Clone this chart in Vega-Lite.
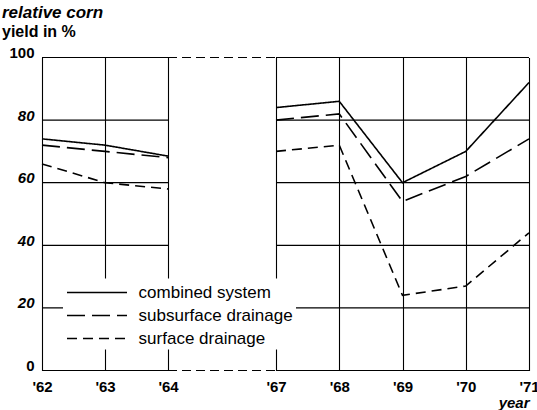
{
  "$schema": "https://vega.github.io/schema/vega-lite/v6.json",
  "width": 487,
  "height": 313,
  "autosize": {"type": "none"},
  "padding": {"left": 42, "top": 57.5, "right": 8, "bottom": 39.5},
  "background": "white",
  "config": {
    "font": "Liberation Sans",
    "view": {"stroke": null}
  },
  "title": {
    "text": "relative corn",
    "subtitle": "yield in %",
    "anchor": "start",
    "frame": "group",
    "dx": -40,
    "fontStyle": "italic",
    "fontWeight": "bold",
    "fontSize": 17,
    "color": "black",
    "subtitleFontSize": 16,
    "subtitleFontWeight": "bold",
    "subtitleColor": "black",
    "subtitlePadding": 1.5,
    "offset": 5
  },
  "datasets": {
    "yields": [
      {"series": "combined system", "period": "1962-64", "year": 1962, "yield": 74},
      {"series": "combined system", "period": "1962-64", "year": 1963, "yield": 72},
      {"series": "combined system", "period": "1962-64", "year": 1964, "yield": 68.5},
      {"series": "combined system", "period": "1967-71", "year": 1967, "yield": 84},
      {"series": "combined system", "period": "1967-71", "year": 1968, "yield": 86},
      {"series": "combined system", "period": "1967-71", "year": 1969, "yield": 60},
      {"series": "combined system", "period": "1967-71", "year": 1970, "yield": 70},
      {"series": "combined system", "period": "1967-71", "year": 1971, "yield": 92},
      {"series": "subsurface drainage", "period": "1962-64", "year": 1962, "yield": 72},
      {"series": "subsurface drainage", "period": "1962-64", "year": 1963, "yield": 70},
      {"series": "subsurface drainage", "period": "1962-64", "year": 1964, "yield": 68},
      {"series": "subsurface drainage", "period": "1967-71", "year": 1967, "yield": 80},
      {"series": "subsurface drainage", "period": "1967-71", "year": 1968, "yield": 82},
      {"series": "subsurface drainage", "period": "1967-71", "year": 1969, "yield": 54},
      {"series": "subsurface drainage", "period": "1967-71", "year": 1970, "yield": 62},
      {"series": "subsurface drainage", "period": "1967-71", "year": 1971, "yield": 74},
      {"series": "surface drainage", "period": "1962-64", "year": 1962, "yield": 66},
      {"series": "surface drainage", "period": "1962-64", "year": 1963, "yield": 60},
      {"series": "surface drainage", "period": "1962-64", "year": 1964, "yield": 58},
      {"series": "surface drainage", "period": "1967-71", "year": 1967, "yield": 70},
      {"series": "surface drainage", "period": "1967-71", "year": 1968, "yield": 72},
      {"series": "surface drainage", "period": "1967-71", "year": 1969, "yield": 24},
      {"series": "surface drainage", "period": "1967-71", "year": 1970, "yield": 27},
      {"series": "surface drainage", "period": "1967-71", "year": 1971, "yield": 44}
    ],
    "gridlines": [
      {"level": 0, "start": 1962, "end": 1964},
      {"level": 20, "start": 1962, "end": 1964},
      {"level": 40, "start": 1962, "end": 1964},
      {"level": 60, "start": 1962, "end": 1964},
      {"level": 80, "start": 1962, "end": 1964},
      {"level": 100, "start": 1962, "end": 1964},
      {"level": 0, "start": 1967, "end": 1971},
      {"level": 20, "start": 1967, "end": 1971},
      {"level": 40, "start": 1967, "end": 1971},
      {"level": 60, "start": 1967, "end": 1971},
      {"level": 80, "start": 1967, "end": 1971},
      {"level": 100, "start": 1967, "end": 1971}
    ],
    "gapedges": [
      {"level": 0, "start": 1964, "end": 1967},
      {"level": 100, "start": 1964, "end": 1967}
    ]
  },
  "layer": [
    {
      "data": {"name": "gridlines"},
      "mark": {"type": "rule", "color": "black", "strokeWidth": 1.2},
      "encoding": {
        "x": {"field": "start", "type": "quantitative", "scale": {"domain": [1962, 1964, 1967, 1971], "range": [0, 126, 234, 487]},
          "axis": {
            "values": [1962, 1963, 1964, 1967, 1968, 1969, 1970, 1971],
            "labelExpr": "\"'\" + slice(toString(datum.value), 2)",
            "grid": true, "gridColor": "black", "gridOpacity": 1, "gridWidth": 1.1,
            "domain": false, "ticks": false,
            "labelPadding": 9, "labelFontSize": 15, "labelFontWeight": "bold", "labelColor": "black",
            "labelFlush": false, "labelOverlap": false,
            "title": "year", "titleAnchor": "end", "titleFontStyle": "italic", "titleFontWeight": "bold",
            "titleFontSize": 15, "titleColor": "black", "titlePadding": 1
          }},
        "x2": {"field": "end"},
        "y": {"field": "level", "type": "quantitative", "scale": {"domain": [0, 100]},
          "axis": {
            "values": [0, 20, 40, 60, 80, 100],
            "grid": false, "domain": false, "ticks": false,
            "labelPadding": 8, "labelBaseline": "alphabetic", "labelFontSize": 15, "labelFontWeight": "bold",
            "labelColor": "black",
            "labelFontStyle": {"condition": {"test": "datum.value > 0 && datum.value < 100", "value": "italic"}, "value": "normal"},
            "title": null
          }}
      }
    },
    {
      "data": {"name": "gapedges"},
      "mark": {"type": "rule", "color": "black", "strokeWidth": 1.2, "strokeDash": [9, 5]},
      "encoding": {
        "x": {"field": "start", "type": "quantitative"},
        "x2": {"field": "end"},
        "y": {"field": "level", "type": "quantitative"}
      }
    },
    {
      "data": {"name": "yields"},
      "mark": {"type": "line", "color": "black", "strokeWidth": 1.6},
      "encoding": {
        "x": {"field": "year", "type": "quantitative"},
        "y": {"field": "yield", "type": "quantitative"},
        "detail": {"field": "period"},
        "strokeDash": {
          "field": "series", "type": "nominal",
          "scale": {"domain": ["combined system", "subsurface drainage", "surface drainage"], "range": [[1, 0], [18, 7], [10, 6]]},
          "legend": {
            "title": null, "orient": "none", "legendX": 21, "legendY": 221,
            "symbolType": "M-1,0H5", "symbolSize": 400, "symbolStrokeWidth": 1.5, "symbolStrokeColor": "black",
            "labelFontSize": 17, "labelColor": "black", "labelOffset": 50.6, "rowPadding": 4,
            "padding": 3, "fillColor": "white", "labelLimit": 400
          }
        }
      }
    }
  ]
}
